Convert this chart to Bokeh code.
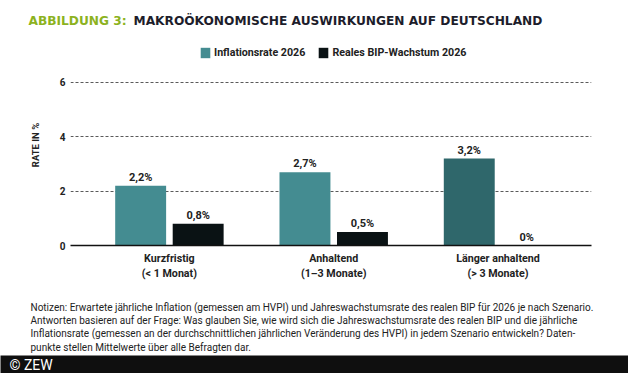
from bokeh.plotting import figure
from bokeh.layouts import column
from bokeh.models import Range1d, FixedTicker, Legend, LegendItem
from bokeh.embed import file_html
from bokeh.resources import INLINE
from bokeh.core.properties import value

# ---- data ----
categories = ["Kurzfristig\n(< 1 Monat)", "Anhaltend\n(1–3 Monate)", "Länger anhaltend\n(> 3 Monate)"]
inflation = [2.2, 2.7, 3.2]
bip = [0.8, 0.5, 0.0]
y_ticks = [0, 2, 4, 6]
series_names = ["Inflationsrate 2026", "Reales BIP-Wachstum 2026"]
title_prefix = "ABBILDUNG 3:"
title_main = "MAKROÖKONOMISCHE AUSWIRKUNGEN AUF DEUTSCHLAND"
y_label = "RATE IN %"
notes = [
    "Notizen: Erwartete jährliche Inflation (gemessen am HVPI) und Jahreswachstumsrate des realen BIP für 2026 je nach Szenario.",
    "Antworten basieren auf der Frage: Was glauben Sie, wie wird sich die Jahreswachstumsrate des realen BIP und die jährliche",
    "Inflationsrate (gemessen an der durchschnittlichen jährlichen Veränderung des HVPI) in jedem Szenario entwickeln? Daten-",
    "punkte stellen Mittelwerte über alle Befragten dar.",
]
footer = "© ZEW"

TEAL = "#448c91"
TEAL_DARK = "#2f676b"
BLACK = "#0a1214"
GREEN = "#8cb21e"
DARK = "#1d1d2b"
TXT = "#222222"
FONT = "Roboto"
TFONT = "DejaVu Sans"

W = 628
H_HEAD, H_MAIN, H_NOTES, H_FOOT = 40, 250, 65, 18


def no_align(f):
    try:
        f.frame_align = False
    except Exception:
        pass
    return f


def blank(h, bg="white"):
    f = figure(width=W, height=h, output_backend="svg", toolbar_location=None,
               x_range=Range1d(0, W), y_range=Range1d(h, 0),
               x_axis_location=None, y_axis_location=None, min_border=0)
    f.grid.visible = False
    f.outline_line_color = None
    f.background_fill_color = bg
    f.border_fill_color = bg
    return no_align(f)


# ---- header: title ----
head = blank(H_HEAD)
head.text(x=[28], y=[20.5], text=[title_prefix], text_font=value(TFONT), text_font_style="bold",
          text_font_size="12.2px", text_color=GREEN, text_baseline="middle")
head.text(x=[133], y=[20.5], text=[title_main], text_font=value(TFONT), text_font_style="bold",
          text_font_size="12.2px", text_color=DARK, text_baseline="middle")

# ---- main chart ----
FL, FR, FT, FB = 70, 591, 4, 205  # frame edges inside main figure (px)
PX_PER_UNIT = 27.17
p = figure(width=W, height=H_MAIN, output_backend="svg", toolbar_location=None,
           x_range=Range1d(-0.602, 2.569), y_range=Range1d(0, (FB - FT) / PX_PER_UNIT),
           min_border_left=FL, min_border_right=W - FR,
           min_border_top=FT, min_border_bottom=H_MAIN - FB)
no_align(p)
p.outline_line_color = None

xpos = list(range(len(categories)))
infl_colors = [TEAL if i < len(categories) - 1 else TEAL_DARK for i in xpos]
off, bw = 0.175, 0.31

r1 = p.vbar(x=[i - off for i in xpos], top=inflation, width=bw, bottom=0,
            fill_color=infl_colors, line_color=None)
r2 = p.vbar(x=[i + off for i in xpos], top=bip, width=bw, bottom=0,
            fill_color=BLACK, line_color=None)


def fmt(v):
    return "0%" if v == 0 else f"{v:.1f}".replace(".", ",") + "%"


for xs, vals in (([i - off for i in xpos], inflation), ([i + off for i in xpos], bip)):
    p.text(x=xs, y=vals, text=[fmt(v) for v in vals], text_align="center",
           text_baseline="bottom", y_offset=-2, text_font=value(FONT),
           text_font_style="bold", text_font_size="11px", text_color=TXT)

p.xaxis.ticker = FixedTicker(ticks=xpos)
p.xaxis.major_label_overrides = {i: c for i, c in zip(xpos, categories)}
p.xaxis.major_tick_line_color = None
p.xaxis.minor_tick_line_color = None
p.xaxis.major_tick_out = 0
p.xaxis.axis_line_color = "#111111"
p.xaxis.axis_line_width = 1.5
p.xaxis.major_label_text_font = FONT
p.xaxis.major_label_text_font_style = "bold"
p.xaxis.major_label_text_font_size = "10.7px"
p.xaxis.major_label_text_color = TXT
p.xaxis.major_label_standoff = 6

p.yaxis.ticker = FixedTicker(ticks=y_ticks)
p.yaxis.axis_line_color = None
p.yaxis.major_tick_line_color = None
p.yaxis.minor_tick_line_color = None
p.yaxis.major_tick_out = 0
p.yaxis.major_label_text_font = FONT
p.yaxis.major_label_text_font_style = "bold"
p.yaxis.major_label_text_font_size = "10px"
p.yaxis.major_label_text_color = TXT
p.yaxis.major_label_standoff = 5
p.yaxis.axis_label = y_label
p.yaxis.axis_label_text_font = FONT
p.yaxis.axis_label_text_font_style = "bold"
p.yaxis.axis_label_text_font_size = "9.5px"
p.yaxis.axis_label_text_color = TXT
p.yaxis.axis_label_standoff = 16

p.xgrid.grid_line_color = None
p.ygrid.grid_line_color = "#5a5a5a"
p.ygrid.grid_line_dash = "3 2"
p.ygrid.grid_line_width = 1

# legend (inside the frame's empty upper area)
legend = Legend(items=[LegendItem(label=series_names[0], renderers=[r1], index=0),
                       LegendItem(label=series_names[1], renderers=[r2], index=0)],
                orientation="horizontal", location=(199 - FL, FB - 19),
                glyph_width=12, glyph_height=13, label_height=13,
                label_standoff=3, spacing=12, padding=0, margin=0,
                border_line_color=None, background_fill_alpha=0,
                label_text_font=FONT, label_text_font_style="bold",
                label_text_font_size="10.7px", label_text_color=TXT,
                label_text_baseline="middle")
p.add_layout(legend, "center")

# ---- notes ----
nf = blank(H_NOTES)
nf.text(x=[30] * len(notes), y=[16.7 + 13.3 * k for k in range(len(notes))], text=notes,
        text_font=value(FONT), text_font_size="10px", text_color=TXT, text_baseline="middle")

# ---- footer ----
ff = blank(H_FOOT, bg="#0f0f0f")
ff.text(x=[9], y=[9.5], text=[footer], text_font=value(FONT), text_font_size="14px",
        text_color="white", text_baseline="middle")

layout = column(head, p, nf, ff, spacing=0)
open("out.html", "w").write(file_html(layout, INLINE))
